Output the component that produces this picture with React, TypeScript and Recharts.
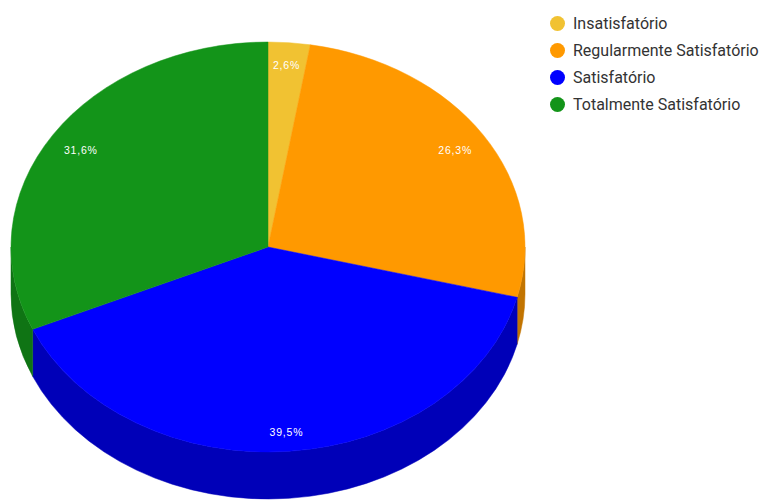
import { PieChart, Pie, Cell, Legend } from 'recharts';

const categories = ['Insatisfatório', 'Regularmente Satisfatório', 'Satisfatório', 'Totalmente Satisfatório'];
const responses = [1, 10, 15, 12];

const COLORS = ['#f1c232', '#ff9900', '#0000ff', '#139419'];
const SIDE_COLORS = ['#b8911f', '#c27400', '#0000b8', '#0f7414'];

const data = categories.map((name, i) => ({ name, value: responses[i], side: SIDE_COLORS[i] }));

// fake 3D: squash the circle into an ellipse and add a wall under the front half
const TILT = 205 / 257;
const DEPTH = 47;
const RAD = Math.PI / 180;

const pt = (cx: number, cy: number, rx: number, ry: number, a: number) =>
  [cx + rx * Math.cos(a * RAD), cy - ry * Math.sin(a * RAD)];

function Slice3D(props: any) {
  const { cx, cy, outerRadius, startAngle, endAngle, fill } = props;
  const side = props.side ?? props.payload?.side ?? fill;
  const rx = outerRadius;
  const ry = outerRadius * TILT;
  const hi = Math.max(startAngle, endAngle);
  const lo = Math.min(startAngle, endAngle);
  const large = hi - lo > 180 ? 1 : 0;
  const [x1, y1] = pt(cx, cy, rx, ry, hi);
  const [x2, y2] = pt(cx, cy, rx, ry, lo);
  const top = `M${cx},${cy} L${x1},${y1} A${rx},${ry} 0 ${large} 1 ${x2},${y2} Z`;

  const walls: string[] = [];
  for (const k of [-1, 0, 1]) {
    const a1 = Math.max(lo, -180 + 360 * k);
    const a2 = Math.min(hi, 360 * k);
    if (a2 - a1 > 0.01) {
      const [sx, sy] = pt(cx, cy, rx, ry, a2);
      const [ex, ey] = pt(cx, cy, rx, ry, a1);
      walls.push(
        `M${sx},${sy} A${rx},${ry} 0 0 1 ${ex},${ey} L${ex},${ey + DEPTH} A${rx},${ry} 0 0 0 ${sx},${sy + DEPTH} Z`
      );
    }
  }

  return (
    <g>
      {walls.map((d, i) => (
        <path key={i} d={d} fill={side} stroke={side} strokeWidth={0.5} />
      ))}
      <path d={top} fill={fill} stroke={fill} strokeWidth={0.5} />
    </g>
  );
}

const renderLabel = (props: any) => {
  const { cx, cy, midAngle, outerRadius, percent } = props;
  const s = Math.sin(midAngle * RAD);
  const x = cx + outerRadius * 0.87 * Math.cos(midAngle * RAD);
  const y = cy + 1.5 + 4 * (1 - s * s) - outerRadius * TILT * 0.9 * s;
  const text = (percent * 100).toFixed(1).replace('.', ',') + '%';
  return (
    <text
      x={x}
      y={y}
      fill="#ffffff"
      fontSize={10.5}
      fontFamily="Liberation Sans, Arial, sans-serif"
      letterSpacing={0.8}
      textAnchor="middle"
      dominantBaseline="central"
    >
      {text}
    </text>
  );
};

const renderLegend = ({ payload }: any) => (
  <div style={{ fontFamily: 'Roboto, Arial, sans-serif', fontSize: 16, color: '#333' }}>
    {(payload || []).map((e: any, i: number) => (
      <div key={i} style={{ display: 'flex', alignItems: 'center', height: 27 }}>
        <svg width={15} height={15} style={{ marginRight: 8, flexShrink: 0 }}>
          <circle cx={7.5} cy={7.5} r={7.5} fill={e.color} />
        </svg>
        <span>{e.value}</span>
      </div>
    ))}
  </div>
);

export default function App() {
  return (
    <div style={{ position: 'absolute', left: 0, top: 0, background: '#fff' }}>
      <PieChart width={773} height={500} margin={{ top: 0, right: 0, bottom: 0, left: 0 }}>
        <Pie
          data={data}
          dataKey="value"
          nameKey="name"
          cx={268}
          cy={247}
          outerRadius={257}
          startAngle={90}
          endAngle={-270}
          stroke="none"
          shape={Slice3D}
          label={renderLabel}
          labelLine={false}
          isAnimationActive={false}
        >
          {data.map((d, i) => (
            <Cell key={d.name} fill={COLORS[i]} />
          ))}
        </Pie>
        <Legend
          layout="vertical"
          verticalAlign="top"
          align="right"
          content={renderLegend}
          wrapperStyle={{ position: 'absolute', left: 550, top: 9.5, right: 'auto', width: 223 }}
        />
      </PieChart>
    </div>
  );
}
